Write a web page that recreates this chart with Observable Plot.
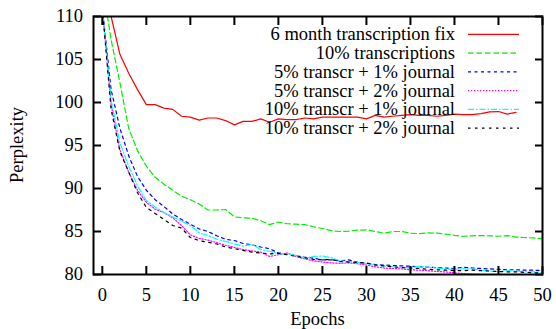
<!DOCTYPE html>
<html><head><meta charset="utf-8">
<script src="https://cdn.jsdelivr.net/npm/d3@7"></script>
<script src="https://cdn.jsdelivr.net/npm/@observablehq/plot@0.6"></script>
<style>html,body{margin:0;padding:0;background:#fff;} svg{display:block}</style>
</head><body><div id="chart"></div>
<script>
const epochs = d3.range(0, 51);
const xTicks = [0, 5, 10, 15, 20, 25, 30, 35, 40, 45, 50];
const yTicks = [80, 85, 90, 95, 100, 105, 110];
const seriesNames = [
  "6 month transcription fix",
  "10% transcriptions",
  "5% transcr + 1% journal",
  "5% transcr + 2% journal",
  "10% transcr + 1% journal",
  "10% transcr + 2% journal"
];
const red = [116, 110, 105.6, 103.4, 101.5, 99.75, 99.75, 99.35, 99.2, 98.4, 98.3, 97.95, 98.2, 98.2, 97.9, 97.4, 97.8, 97.8, 98.1, 97.7, 98.1, 98.0, 98.0, 98.2, 98.1, 98.3, 98.3, 98.3, 98.3, 98.3, 98.1, 98.5, 98.3, 98.4, 98.5, 98.6, 98.5, 98.5, 98.4, 98.5, 98.65, 98.6, 98.6, 98.7, 98.9, 98.95, 98.65, 98.85];
const green = [114, 107.3, 102.3, 97.0, 94.4, 92.6, 91.3, 90.5, 89.8, 89.1, 88.7, 88.2, 87.5, 87.5, 87.55, 86.7, 86.6, 86.55, 86.25, 85.8, 86.1, 85.9, 85.85, 85.8, 85.55, 85.35, 85.1, 85.0, 85.05, 85.15, 85.2, 85.0, 84.8, 85.0, 85.0, 84.8, 84.75, 84.85, 84.8, 84.7, 84.55, 84.45, 84.5, 84.53, 84.5, 84.45, 84.53, 84.35, 84.3, 84.25, 84.15];
const blue = [111, 101.5, 97.0, 93.8, 91.4, 89.8, 88.7, 87.9, 87.05, 86.4, 85.85, 85.3, 85.0, 84.5, 84.1, 83.95, 83.6, 83.45, 83.2, 83.0, 82.5, 82.4, 82.2, 82.0, 81.9, 81.7, 81.7, 81.6, 81.7, 81.4, 81.3, 81.15, 81.1, 81.05, 81.0, 80.97, 80.9, 80.85, 80.8, 80.75, 80.7, 80.85, 80.75, 80.7, 80.65, 80.6, 80.55, 80.55, 80.5, 80.5, 80.45];
const magenta = [111, 99.8, 94.5, 91.9, 89.8, 88.4, 87.6, 87.2, 86.6, 85.7, 84.6, 84.2, 84.0, 83.7, 83.4, 83.15, 82.9, 82.75, 82.6, 82.1, 82.3, 82.5, 82.1, 81.8, 81.6, 81.45, 81.35, 81.3, 81.35, 81.25, 81.1, 80.9, 80.75, 80.7, 80.65, 80.55, 80.5, 80.45, 80.35, 80.3, 80.2, 80.1, 80.05, 80.0, 80.0, 79.95, 79.95, 79.9, 79.9, 79.9, 79.9];
const cyan = [111, 100.3, 95.3, 92.6, 90.3, 88.6, 87.85, 87.2, 86.7, 86.2, 85.7, 84.85, 84.55, 84.1, 83.85, 83.55, 83.3, 83.5, 82.9, 82.7, 82.4, 82.4, 82.2, 81.9, 82.1, 82.15, 81.95, 81.6, 81.5, 81.4, 81.3, 81.15, 81.0, 80.9, 80.8, 80.8, 80.95, 80.85, 80.75, 80.65, 80.6, 80.65, 80.65, 80.5, 80.4, 80.35, 80.45, 80.4, 80.3, 80.3, 80.25];
const black = [111, 99.2, 94.3, 91.9, 89.5, 87.8, 87.1, 86.4, 85.7, 85.4, 84.3, 83.95, 83.75, 83.55, 83.2, 83.0, 82.8, 82.6, 82.5, 82.4, 82.45, 82.3, 82.1, 81.95, 81.75, 81.7, 81.75, 81.5, 81.45, 81.4, 81.35, 81.1, 81.0, 80.9, 80.8, 80.75, 80.7, 80.6, 80.55, 80.5, 80.45, 80.45, 80.5, 80.45, 80.4, 80.35, 80.3, 80.3, 80.25, 80.2, 80.2];

const colors = ["#ff0000", "#00ee00", "#0000ff", "#ff00ff", "#00ffff", "#000000"];
const dashes = [null, "5.5,3", "3,3.5", "1.3,1.7", "6,2,1.5,2", "2.5,4.5"];
const valueSets = [red, green, blue, magenta, cyan, black];

const series = valueSets.map((vals, i) => ({
  name: seriesNames[i],
  color: colors[i],
  dash: dashes[i],
  data: vals.map((v, j) => ({epoch: epochs[j], value: v}))
}));

const font = "'Liberation Serif', 'Times New Roman', serif";
const fs = 18.5;

const chart = Plot.plot({
  width: 556, height: 329,
  marginTop: 16, marginBottom: 55, marginLeft: 93, marginRight: 14,
  style: {fontFamily: font, fontSize: fs + "px", background: "white", color: "black", overflow: "visible"},
  x: {domain: [-1, 50]},
  y: {domain: [80, 110]},
  marks: [
    ...series.map(s => Plot.line(s.data, {
      x: "epoch", y: "value", stroke: s.color, strokeWidth: 1.2,
      strokeDasharray: s.dash, clip: true
    })),
    Plot.axisX(xTicks, {anchor: "bottom", tickSize: -8, tickPadding: 21, strokeWidth: 2, label: null, fontSize: fs, fontFamily: font}),
    Plot.axisX(xTicks, {anchor: "top", tickSize: -8, tickFormat: () => "", strokeWidth: 2, label: null}),
    Plot.axisY(yTicks, {anchor: "left", tickSize: -8, tickPadding: 18.5, strokeWidth: 2, label: null, fontSize: fs, fontFamily: font}),
    Plot.axisY(yTicks, {anchor: "right", tickSize: -8, tickFormat: () => "", strokeWidth: 2, label: null}),
    Plot.frame({stroke: "black", strokeWidth: 2})
  ]
});

document.getElementById("chart").appendChild(chart);

const svg = d3.select(chart);
svg.selectAll("text").attr("font-family", font).style("font-variant", "normal");
const g = svg.append("g").attr("font-family", font).attr("font-size", fs).attr("fill", "black");
series.forEach((s, i) => {
  const y = 34.3 + i * 18.75;
  g.append("text").attr("x", 455).attr("y", y).attr("dy", "0.33em")
    .attr("text-anchor", "end").text(s.name);
  const ln = g.append("line").attr("x1", 468).attr("x2", 519).attr("y1", y).attr("y2", y)
    .attr("stroke", s.color).attr("stroke-width", 1.2);
  if (s.dash) ln.attr("stroke-dasharray", s.dash);
});
g.append("text").attr("x", 317.5).attr("y", 325).attr("text-anchor", "middle").text("Epochs");
g.append("text").attr("transform", "translate(23,145) rotate(-90)").attr("text-anchor", "middle").text("Perplexity");
</script>
</body></html>
